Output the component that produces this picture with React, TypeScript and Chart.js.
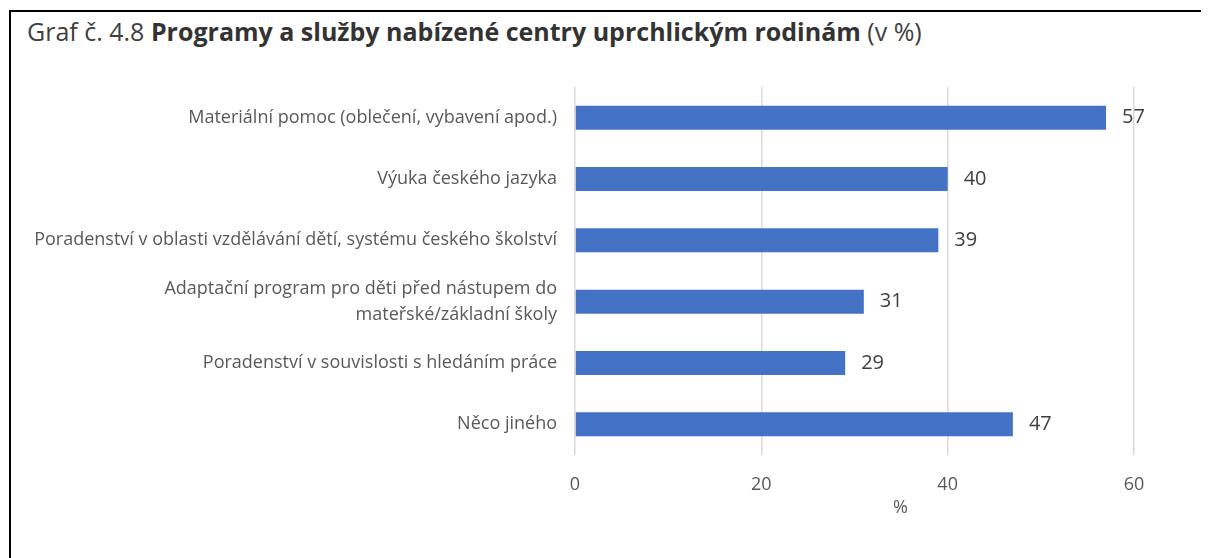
import React, { useEffect, useRef } from "react";
import { Chart, registerables } from "chart.js";

Chart.register(...registerables);

const categories: (string | string[])[] = [
  "Materiální pomoc (oblečení, vybavení apod.)",
  "Výuka českého jazyka",
  "Poradenství v oblasti vzdělávání dětí, systému českého školství",
  ["Adaptační program pro děti před nástupem do", "mateřské/základní školy"],
  "Poradenství v souvislosti s hledáním práce",
  "Něco jiného",
];
const values: number[] = [57, 40, 39, 31, 29, 47];
const xTicks: number[] = [0, 20, 40, 60];
const axisTitle = "%";

const FONT = "'Open Sans', sans-serif";

const extras = {
  id: "extras",
  afterDatasetsDraw(chart: any) {
    const ctx = chart.ctx;
    const meta = chart.getDatasetMeta(0);
    ctx.save();
    ctx.font = `20px ${FONT}`;
    ctx.fillStyle = "#404040";
    ctx.textAlign = "left";
    ctx.textBaseline = "middle";
    meta.data.forEach((bar: any, i: number) => {
      ctx.fillText(String(values[i]), bar.x + 16, bar.y);
    });
    const ca = chart.chartArea;
    ctx.font = `18px ${FONT}`;
    ctx.fillStyle = "#595959";
    ctx.textAlign = "center";
    ctx.fillText(axisTitle, (ca.left + ca.right) / 2 + 46, ca.bottom + 53);
    ctx.restore();
  },
};

export default function App() {
  const ref = useRef<HTMLCanvasElement | null>(null);
  useEffect(() => {
    document.body.style.overflow = "hidden";
    if (!ref.current) return;
    const chart = new Chart(ref.current, {
      type: "bar",
      data: {
        labels: categories,
        datasets: [
          {
            data: values,
            backgroundColor: "#4472C4",
            borderWidth: 0,
            barPercentage: 0.39,
            categoryPercentage: 1,
          },
        ],
      },
      options: {
        indexAxis: "y",
        animation: false,
        responsive: true,
        maintainAspectRatio: false,
        layout: { padding: { top: 27, right: 68, bottom: 43, left: 0 } },
        plugins: {
          legend: { display: false },
          tooltip: { enabled: false },
          title: { display: false },
        },
        scales: {
          x: {
            min: 0,
            max: 60,
            afterBuildTicks: (scale: any) => {
              scale.ticks = xTicks.map((v) => ({ value: v }));
            },
            afterFit: (scale: any) => {
              scale.height = 62;
            },
            grid: { color: "#d9d9d9", lineWidth: 1.5, drawTicks: false },
            border: { display: false },
            ticks: {
              padding: 19,
              color: "#595959",
              font: { family: FONT, size: 18 },
            },
          },
          y: {
            grid: { display: false, drawTicks: false },
            border: { display: false },
            afterFit: (scale: any) => {
              scale.width = 564;
              scale.paddingTop = 0;
              scale.paddingBottom = 0;
            },
            ticks: {
              padding: 18,
              color: "#595959",
              font: { family: FONT, size: 18, lineHeight: 1.45 },
            },
          },
        },
      },
      plugins: [extras],
    });
    return () => chart.destroy();
  }, []);

  return (
    <div
      style={{
        marginTop: 2,
        marginLeft: 1,
        width: 1198,
        borderTop: "2px solid #000",
        borderLeft: "2px solid #000",
        fontFamily: FONT,
      }}
    >
      <div
        style={{
          height: 48,
          boxSizing: "border-box",
          paddingTop: 4,
          paddingLeft: 16,
          fontSize: 25,
          lineHeight: 1.2,
          color: "#404040",
          whiteSpace: "nowrap",
        }}
      >
        Graf č. 4.8 <b style={{ color: "#333" }}>Programy a služby nabízené centry uprchlickým rodinám</b> (v %)
      </div>
      <div style={{ position: "relative", width: 1191, height: 500 }}>
        <canvas ref={ref} />
      </div>
    </div>
  );
}
